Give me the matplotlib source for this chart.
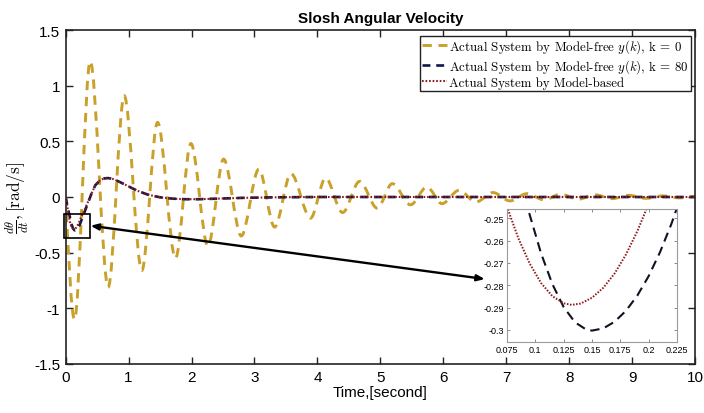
import matplotlib
matplotlib.use("Agg")
import matplotlib.pyplot as plt
from matplotlib.path import Path
from matplotlib.patches import PathPatch, Rectangle

# ---------------- data ----------------
# k = 0 response: successive extrema (time [s], value [rad/s])
k0_t = [0.0, 0.14, 0.39, 0.675, 0.93, 1.21, 1.46, 1.745, 1.99, 2.26, 2.51, 2.79,
        3.07, 3.32, 3.58, 3.89, 4.13, 4.40, 4.67, 4.95, 5.19, 5.48, 5.74, 5.98,
        6.25, 6.52, 6.79, 7.06, 7.33, 7.60, 7.87, 8.14, 8.41, 8.68, 8.95, 9.22,
        9.49, 9.76, 10.0]
k0_v = [0.0, -1.10, 1.22, -0.81, 0.91, -0.66, 0.67, -0.55, 0.48, -0.44, 0.34, -0.35,
        0.25, -0.27, 0.21, -0.19, 0.17, -0.14, 0.14, -0.10, 0.12, -0.07, 0.09, -0.06,
        0.06, -0.045, 0.04, -0.035, 0.03, -0.025, 0.025, -0.02, 0.02, -0.015, 0.015, -0.012,
        0.01, -0.008, 0.005]

# k = 80 response (main axes)
k80_t = [0.0, 0.03, 0.0938, 0.115, 0.135, 0.15, 0.17, 0.20, 0.225, 0.26, 0.30, 0.35,
         0.41, 0.47, 0.55, 0.62, 0.68, 0.75, 0.87, 1.0, 1.13, 1.3, 1.5, 1.7, 1.9,
         2.1, 2.4, 2.8, 3.3, 4.0, 10.0]
k80_v = [0.0, -0.09, -0.246, -0.2795, -0.2966, -0.3003, -0.2963, -0.2759, -0.246, -0.195, -0.135, -0.06,
         0.03, 0.105, 0.153, 0.168, 0.17, 0.162, 0.132, 0.095, 0.058, 0.022, -0.003, -0.015, -0.02,
         -0.02, -0.015, -0.008, -0.003, 0.0, 0.0]

# model-based response (main axes)
mb_t = [0.0, 0.03, 0.075, 0.105, 0.132, 0.16, 0.20, 0.25, 0.30, 0.35, 0.41, 0.47,
        0.55, 0.62, 0.68, 0.75, 0.87, 1.0, 1.13, 1.3, 1.5, 1.7, 1.9, 2.1, 2.4,
        2.8, 3.3, 4.0, 10.0]
mb_v = [0.0, -0.10, -0.245, -0.279, -0.2888, -0.281, -0.2435, -0.178, -0.115, -0.05, 0.03, 0.105,
        0.153, 0.168, 0.17, 0.162, 0.132, 0.095, 0.058, 0.022, -0.003, -0.015, -0.02, -0.02, -0.015,
        -0.008, -0.003, 0.0, 0.0]

# zoomed inset data
in_k80_t = [0.085, 0.095, 0.105, 0.115, 0.125, 0.135, 0.145, 0.150, 0.160, 0.170,
            0.180, 0.190, 0.200, 0.210, 0.220, 0.230]
in_k80_v = [-0.2279, -0.2485, -0.2657, -0.2795, -0.2898, -0.2966, -0.2999, -0.3003, -0.2993, -0.2963,
            -0.2914, -0.2846, -0.2759, -0.2652, -0.2526, -0.2381]
in_mb_t = [0.070, 0.075, 0.085, 0.095, 0.105, 0.115, 0.125, 0.132, 0.140, 0.150,
           0.160, 0.170, 0.180, 0.190, 0.200, 0.210]
in_mb_v = [-0.2382, -0.2450, -0.2590, -0.2703, -0.2790, -0.2849, -0.2881, -0.2888, -0.2882, -0.2856,
           -0.2811, -0.2747, -0.2662, -0.2558, -0.2435, -0.2292]

x_ticks = [0, 1, 2, 3, 4, 5, 6, 7, 8, 9, 10]
y_ticks = [-1.5, -1, -0.5, 0, 0.5, 1, 1.5]
y_tick_labels = ["-1.5", "-1", "-0.5", "0", "0.5", "1", "1.5"]
in_x_ticks = [0.075, 0.1, 0.125, 0.15, 0.175, 0.2, 0.225]
in_x_labels = ["0.075", "0.1", "0.125", "0.15", "0.175", "0.2", "0.225"]
in_y_ticks = [-0.3, -0.29, -0.28, -0.27, -0.26, -0.25]
in_y_labels = ["-0.3", "-0.29", "-0.28", "-0.27", "-0.26", "-0.25"]

labels = [r"Actual System by Model-free $y(k)$, k = 0",
          r"Actual System by Model-free $y(k)$, k = 80",
          r"Actual System by Model-based"]

# ---------------- styling ----------------
plt.rcParams["axes.unicode_minus"] = False
plt.rcParams["mathtext.fontset"] = "cm"
plt.rcParams["font.family"] = ["Liberation Sans", "DejaVu Sans"]

C_K0 = "#C9A029"
C_K80 = "#101848"
C_MB = "#8E1B1B"


def smooth_path(ts, vs):
    verts = [(ts[0], vs[0])]
    codes = [Path.MOVETO]
    for i in range(len(ts) - 1):
        t0, v0, t1, v1 = ts[i], vs[i], ts[i + 1], vs[i + 1]
        h = (t1 - t0) / 3.0
        c1y = v0 + 0.5 * (v1 - v0) if i == 0 else v0
        verts += [(t0 + h, c1y), (t1 - h, v1), (t1, v1)]
        codes += [Path.CURVE4] * 3
    return Path(verts, codes)


fig = plt.figure(figsize=(7.04, 4.14), dpi=100)
ax = fig.add_axes([0.0933, 0.1184, 0.8939, 0.8067])

k0_style = dict(color=C_K0, lw=2.1, linestyle=(0, (3.2, 2.3)))
k80_style = dict(color=C_K80, lw=1.9, linestyle=(0, (3.0, 2.2)))
mb_style = dict(color=C_MB, lw=1.5, linestyle=(0, (0.8, 0.9)))

patch = PathPatch(smooth_path(k0_t, k0_v), fill=False, capstyle="butt", zorder=2, **k0_style)
ax.add_patch(patch)
h0, = ax.plot([], [], **k0_style)
h1, = ax.plot(k80_t, k80_v, zorder=3, **k80_style)
h2, = ax.plot(mb_t, mb_v, zorder=4, **mb_style)

ax.set_xlim(0, 10)
ax.set_ylim(-1.5, 1.5)
ax.set_xticks(x_ticks)
ax.set_xticklabels([str(v) for v in x_ticks])
ax.set_yticks(y_ticks)
ax.set_yticklabels(y_tick_labels)
ax.tick_params(direction="in", length=5, width=1.0, top=True, right=True,
               labelsize=11, pad=4, colors="#222222", labelcolor="black")
for s in ax.spines.values():
    s.set_linewidth(1.2)
    s.set_color("#222222")

ax.set_title("Slosh Angular Velocity", fontsize=11, fontweight="bold", pad=6)
ax.set_xlabel("Time,[second]", fontsize=11, labelpad=1)
ax.set_ylabel(r"$\frac{d\theta}{dt}, [\mathrm{rad/s}]$", fontsize=12.5, labelpad=2)

leg = ax.legend([h0, h1, h2], labels, loc="upper right", bbox_to_anchor=(0.9935, 0.983),
                prop={"family": "cmr10", "size": 9.3}, handlelength=2.0, handletextpad=0.15,
                labelspacing=0.12, borderpad=0.15, borderaxespad=0.0, fancybox=False,
                framealpha=1.0, edgecolor="#222222")
leg.get_frame().set_linewidth(1.0)

# zoom box and arrow
ax.add_patch(Rectangle((-0.02, -0.368), 0.405, 0.215, fill=False, ec="black", lw=1.2,
                       clip_on=False, zorder=6))
ax.annotate("", xy=(6.66, -0.737), xytext=(0.395, -0.258),
            arrowprops=dict(arrowstyle="<|-|>,head_length=0.45,head_width=0.18",
                            color="black", lw=1.7, shrinkA=0, shrinkB=0), zorder=6)

# inset
ins = fig.add_axes([0.7202, 0.1715, 0.2415, 0.3213])
ins.plot(in_k80_t, in_k80_v, color="#111122", lw=1.5, linestyle=(0, (4.5, 2.8)))
ins.plot(in_mb_t, in_mb_v, color=C_MB, lw=1.4, linestyle=(0, (0.8, 0.8)))
ins.set_xlim(0.075, 0.225)
ins.set_ylim(-0.3054, -0.2459)
ins.set_xticks(in_x_ticks)
ins.set_xticklabels(in_x_labels)
ins.set_yticks(in_y_ticks)
ins.set_yticklabels(in_y_labels)
ins.tick_params(direction="in", length=2.5, width=0.6, top=True, right=True,
                labelsize=6.5, pad=2, colors="#777777", labelcolor="black")
for s in ins.spines.values():
    s.set_linewidth(0.8)
    s.set_color("#9a9a9a")

fig.savefig("out.png", dpi=100)
